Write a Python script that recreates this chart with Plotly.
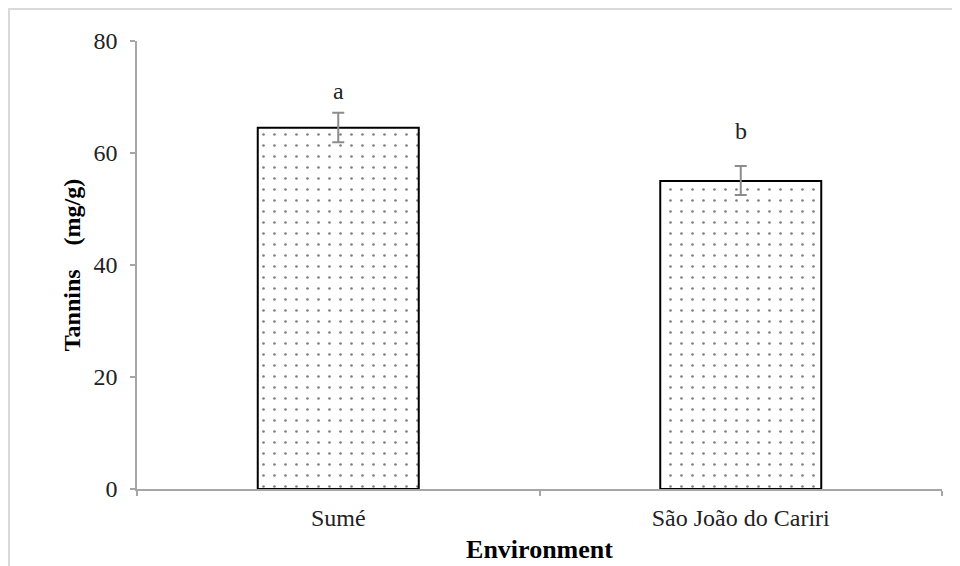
import plotly.graph_objects as go

categories = ["Sumé", "São João do Cariri"]
tannins = [64.5, 55.0]
errors_plus = [2.7, 2.7]
errors_minus = [2.6, 2.5]
letters = ["a", "b"]
letter_y = [71, 64]
y_ticks = [0, 20, 40, 60, 80]

FONT = "Liberation Serif"
AXIS_COLOR = "#a6a6a6"

# page body has an 8px default margin, so margins are offset accordingly
L, T, R, B = 129, 33, 26, 85
W, H = 960, 566
PW, PH = W - L - R, H - T - B

fig = go.Figure()
fig.add_trace(go.Bar(
    x=categories,
    y=tannins,
    width=0.4,
    marker=dict(
        color="white",
        line=dict(color="black", width=2),
        pattern=dict(shape=".", size=11, solidity=0.045, fgcolor="black", bgcolor="white"),
    ),
    error_y=dict(type="data", symmetric=False, array=errors_plus, arrayminus=errors_minus,
                 color="#8c8c8c", thickness=2, width=6),
    showlegend=False,
))

for c, t, yy in zip(categories, letters, letter_y):
    fig.add_annotation(x=c, y=yy, text=t, showarrow=False,
                       font=dict(family=FONT, size=24, color="#222222"))

# outer chart frame
fig.add_shape(type="rect", xref="paper", yref="paper",
              x0=(1 - L) / PW, x1=1.2, y0=-0.3, y1=1 + (T - 1) / PH,
              line=dict(color="#d9d9d9", width=2), fillcolor="rgba(0,0,0,0)", layer="below")

fig.update_layout(
    width=W, height=H,
    margin=dict(l=L, r=R, t=T, b=B),
    paper_bgcolor="white", plot_bgcolor="white",
    font=dict(family=FONT, color="black"),
    xaxis=dict(
        type="category", range=[-0.5, 1.5],
        showline=True, linecolor=AXIS_COLOR, linewidth=1.5,
        ticks="outside", tickson="boundaries", ticklen=5, tickcolor=AXIS_COLOR, tickwidth=1.5,
        ticklabelstandoff=6,
        tickfont=dict(family=FONT, size=24, color="#222222"),
        title=dict(text="<b>Environment</b>", font=dict(family=FONT, size=26, color="black"), standoff=10),
        showgrid=False, zeroline=False,
    ),
    yaxis=dict(
        range=[0, 80], tickvals=y_ticks,
        showline=True, linecolor=AXIS_COLOR, linewidth=1.5,
        ticks="outside", ticklen=5, tickcolor=AXIS_COLOR, tickwidth=1.5,
        ticklabelstandoff=8,
        tickfont=dict(family=FONT, size=24, color="#222222"),
        title=dict(text="<b>Tannins&nbsp;&nbsp;&nbsp;&nbsp;(mg/g)</b>",
                   font=dict(family=FONT, size=24, color="black"), standoff=6),
        showgrid=False, zeroline=False,
    ),
)

fig.write_html("out.html")
